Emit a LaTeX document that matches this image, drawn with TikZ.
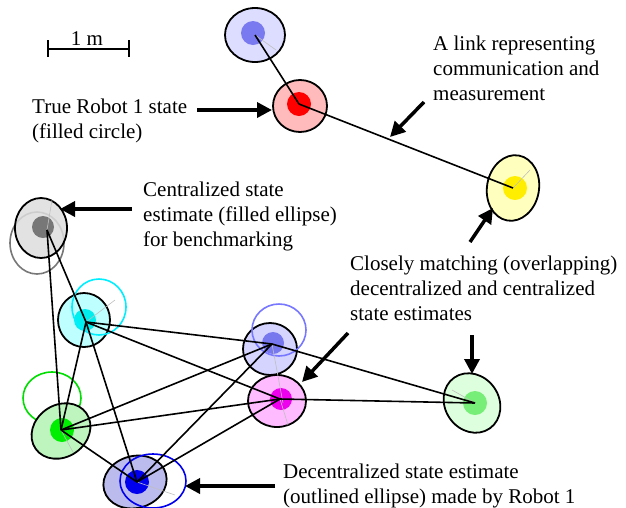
\documentclass[tikz,border=0pt]{standalone}
\usepackage{fontspec}
\setmainfont{Liberation Serif}
\usetikzlibrary{arrows.meta}
\definecolor{lavO}{RGB}{221,221,255}
\definecolor{lavI}{RGB}{122,122,240}
\definecolor{redO}{RGB}{255,187,187}
\definecolor{redI}{RGB}{255,0,0}
\definecolor{yelO}{RGB}{255,255,190}
\definecolor{yelI}{RGB}{255,238,0}
\definecolor{gryO}{RGB}{221,221,221}
\definecolor{gryI}{RGB}{119,119,119}
\definecolor{cyaO}{RGB}{190,255,255}
\definecolor{cyaI}{RGB}{0,238,238}
\definecolor{cyaL}{RGB}{0,238,255}
\definecolor{lmO}{RGB}{212,212,255}
\definecolor{lmI}{RGB}{119,119,238}
\definecolor{lmL}{RGB}{119,119,255}
\definecolor{magO}{RGB}{255,187,255}
\definecolor{magI}{RGB}{238,0,238}
\definecolor{grRO}{RGB}{221,255,221}
\definecolor{grRI}{RGB}{119,238,119}
\definecolor{grLO}{RGB}{190,245,190}
\definecolor{grLI}{RGB}{0,238,0}
\definecolor{grLL}{RGB}{0,221,0}
\definecolor{bluO}{RGB}{187,187,238}
\definecolor{bluI}{RGB}{0,0,238}
\definecolor{bluL}{RGB}{0,0,238}
\tikzset{
  est/.style={draw=black, line width=1.8pt},
  outl/.style={line width=1.6pt},
  axis/.style={draw=black!25, line width=0.6pt},
  link/.style={draw=black, line width=1.6pt},
  callout/.style={draw=black, line width=3.5pt, -{Triangle[length=15pt,width=15pt]}},
  lbl/.style={inner sep=0pt, align=left, font=\fontsize{21}{25}\selectfont},
}
\begin{document}
\begin{tikzpicture}[x=1pt,y=-1pt]
\useasboundingbox (0,0) rectangle (626,507);
% link points
\coordinate (lavtop) at (255,35);
\coordinate (red) at (299,104);
\coordinate (yel) at (513,188);
\coordinate (gry) at (47,230);
\coordinate (cya) at (86,322);
\coordinate (lavmid) at (272,344);
\coordinate (mag) at (280,399);
\coordinate (grnR) at (475,403);
\coordinate (grnL) at (61,430);
\coordinate (blu) at (137,482);
% covariance ellipses (centralized, filled)
\filldraw[est, fill=lavO] (255,35) ellipse [x radius=30, y radius=27];
\fill[lavI] (253,33) circle [radius=12];
\filldraw[est, fill=redO] (300,106) ellipse [x radius=27, y radius=26];
\fill[redI] (299,104) circle [radius=12];
\filldraw[est, fill=yelO, rotate around={-10:(513,188)}] (513,188) ellipse [x radius=26, y radius=33];
\fill[yelI] (515,188) circle [radius=12];
\draw[outl, draw=gryI] (37,243) ellipse [x radius=27, y radius=31];
\filldraw[est, fill=gryO, fill opacity=0.85] (41,228) ellipse [x radius=26, y radius=30];
\fill[gryI] (43,227) circle [radius=11];
\filldraw[est, fill=cyaO] (84,320) ellipse [x radius=26, y radius=27];
\fill[cyaI] (85,320) circle [radius=11];
\draw[outl, draw=cyaL] (99,307) ellipse [x radius=27, y radius=28];
\filldraw[est, fill=lmO] (270,349) ellipse [x radius=27, y radius=26];
\fill[lmI] (273,343) circle [radius=11];
\draw[outl, draw=lmL] (279,330) ellipse [x radius=27, y radius=26];
\filldraw[est, fill=magO] (277,401) ellipse [x radius=29, y radius=26];
\fill[magI] (281,399) circle [radius=11];
\filldraw[est, fill=grRO, rotate around={35:(472,403)}] (472,403) ellipse [x radius=27, y radius=31];
\fill[grRI] (475,403) circle [radius=12];
\draw[outl, draw=grLL] (52,398) ellipse [x radius=29, y radius=26];
\filldraw[est, fill=grLO, rotate around={35:(61,431)}] (61,431) ellipse [x radius=31, y radius=26];
\fill[grLI] (62,430) circle [radius=12];
\filldraw[est, fill=bluO, rotate around={15:(135,482)}] (135,482) ellipse [x radius=32, y radius=26];
\fill[bluI] (137,482) circle [radius=12];
\draw[outl, draw=bluL] (153,481) ellipse [x radius=33, y radius=27];
% faint principal axes
\draw[axis] (yel) -- (530,170);
\draw[axis] (gry) -- (52,200);
\draw[axis] (cya) -- (115,300);
\draw[axis] (lavmid) -- (283,403);
\draw[axis] (mag) -- (288,425);
\draw[axis] (grnR) -- (452,390);
\draw[axis] (grnL) -- (73,452);
\draw[axis] (blu) -- (175,495);
\draw[axis] (lavtop) -- (276,50);
% links
\draw[link] (lavtop) -- (red);
\draw[link] (red) -- (yel);
\draw[link] (gry) -- (cya);
\draw[link] (gry) -- (grnL);
\draw[link] (cya) -- (grnL);
\draw[link] (cya) -- (blu);
\draw[link] (cya) -- (lavmid);
\draw[link] (cya) -- (mag);
\draw[link] (grnL) -- (lavmid);
\draw[link] (grnL) -- (mag);
\draw[link] (grnL) -- (blu);
\draw[link] (blu) -- (lavmid);
\draw[link] (blu) -- (mag);
\draw[link] (lavmid) -- (grnR);
\draw[link] (mag) -- (grnR);
% scale bar
\coordinate (sbL) at (48,49);
\coordinate (sbR) at (129,49);
\draw[line width=1.3pt] (sbL) -- (sbR);
\draw[line width=1.3pt] (48,40) -- (48,57);
\draw[line width=1.3pt] (129,40) -- (129,57);
\node[lbl, anchor=base] (sb) at (87,45) {1 m};
% labels (anchor = baseline of last line)
\node[lbl, anchor=base west] (t1) at (32,138) {True Robot 1 state\\(filled circle)};
\node[lbl, anchor=base west] (t2) at (433,100) {A link representing\\communication and\\measurement};
\node[lbl, anchor=base west] (t3) at (143,246) {Centralized state\\estimate (filled ellipse)\\for benchmarking};
\node[lbl, anchor=base west] (t4) at (350,320) {Closely matching (overlapping)\\decentralized and centralized\\state estimates};
\node[lbl, anchor=base west] (t5) at (283,503) {Decentralized state estimate\\(outlined ellipse) made by Robot 1};
% callout arrows
\coordinate (a1s) at (197,110); \coordinate (a1e) at (272,110);
\coordinate (a2s) at (424,102); \coordinate (a2e) at (390,137);
\coordinate (a3s) at (132,209); \coordinate (a3e) at (60,209);
\coordinate (a4s) at (470,242); \coordinate (a4e) at (493,208);
\coordinate (a5s) at (348,333); \coordinate (a5e) at (302,382);
\coordinate (a6s) at (472,335); \coordinate (a6e) at (472,374);
\coordinate (a7s) at (275,486); \coordinate (a7e) at (185,486);
\draw[callout] (a1s) -- (a1e);
\draw[callout] (a2s) -- (a2e);
\draw[callout] (a3s) -- (a3e);
\draw[callout] (a4s) -- (a4e);
\draw[callout] (a5s) -- (a5e);
\draw[callout] (a6s) -- (a6e);
\draw[callout] (a7s) -- (a7e);
\end{tikzpicture}
\end{document}
